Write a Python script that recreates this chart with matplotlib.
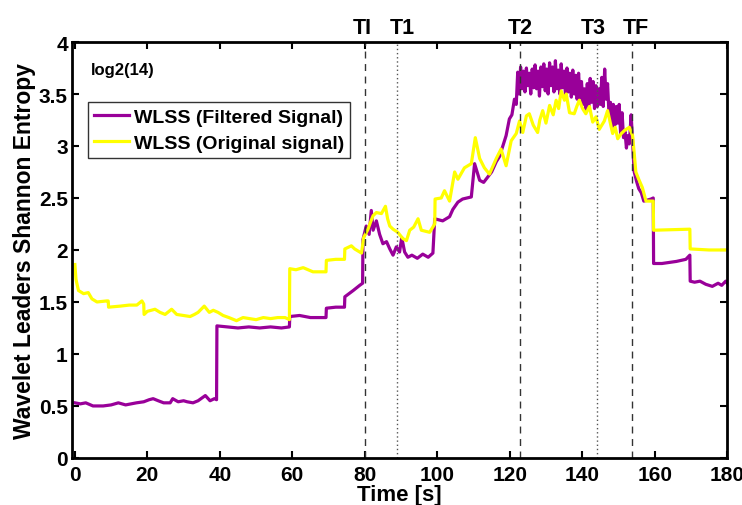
import matplotlib
matplotlib.use("Agg")
import matplotlib.pyplot as plt

plt.rcParams["font.family"] = ["Liberation Sans", "DejaVu Sans"]
plt.rcParams["font.weight"] = "bold"

# Filtered signal (purple)
filt_t = [0, 1.5, 3, 5, 7.8, 10, 12, 14, 17, 19, 20.5, 21.6, 23, 24.5, 26.3, 27, 28.5, 30, 31,
          32.6, 34, 36, 37.3, 38.5, 39.1, 39.2, 42, 45, 48, 51, 54, 57, 59.2, 59.3, 62, 65, 67,
          69.3, 69.4, 72, 74.4, 74.5, 76.8, 78.6, 79.4, 79.5, 80.4, 81.2, 81.8, 82.3, 83.2, 84.1,
          85, 86, 86.9, 87.8, 88.7, 89.6, 90.2, 91, 91.9, 93, 94.5, 96, 97.5, 98.8, 99.3, 101.5,
          103.4, 104.3, 105.7, 107, 109.4, 110.3, 111.7, 112.8, 113.9, 115, 116.3, 117.2, 118.1,
          119, 119.9, 120.6, 121.3, 121.8, 122.2, 122.6, 123.0, 123.4, 123.8, 124.2, 124.6, 125.0,
          125.4, 125.8, 126.2, 126.6, 127.0, 127.4, 127.8, 128.2, 128.6, 129.0, 129.4, 129.8,
          130.2, 130.6, 131.0, 131.4, 131.8, 132.2, 132.6, 133.0, 133.4, 133.8, 134.2, 134.6,
          135.0, 135.4, 135.8, 136.2, 136.6, 137.0, 137.4, 137.8, 138.2, 138.6, 139.0, 139.4,
          139.8, 140.2, 140.6, 141.0, 141.4, 141.8, 142.2, 142.6, 143.0, 143.4, 143.8, 144.2,
          144.6, 145.0, 145.4, 145.8, 146.2, 146.6, 147.0, 147.4, 147.8, 148.2, 148.6, 149.0,
          149.4, 149.8, 150.2, 150.6, 151.0, 151.4, 151.8, 152.2, 152.6, 153.0, 153.5, 153.9,
          154.3, 155.0, 155.6, 156.3, 157.0, 158.0, 159.0, 159.6, 159.7, 162, 164, 166, 168.6,
          169.7, 169.8, 171, 172.5, 174.1, 175.9, 177.5, 178.5, 179.6, 180]
filt_v = [0.53, 0.52, 0.53, 0.50, 0.50, 0.51, 0.53, 0.51, 0.53, 0.54, 0.56, 0.57, 0.55, 0.53,
          0.53, 0.57, 0.54, 0.55, 0.54, 0.53, 0.55, 0.60, 0.55, 0.57, 0.56, 1.27, 1.26, 1.25,
          1.26, 1.25, 1.26, 1.25, 1.26, 1.36, 1.37, 1.35, 1.35, 1.35, 1.44, 1.45, 1.45, 1.55,
          1.61, 1.66, 1.68, 2.10, 2.23, 2.15, 2.38, 2.19, 2.28, 2.15, 2.06, 2.08, 2.01, 1.95,
          2.03, 1.98, 2.12, 1.98, 1.93, 1.95, 1.92, 1.96, 1.93, 1.97, 2.30, 2.28, 2.32, 2.39,
          2.46, 2.49, 2.51, 2.83, 2.67, 2.65, 2.70, 2.75, 2.85, 2.90, 3.00, 3.10, 3.26, 3.30,
          3.45, 3.40, 3.71, 3.50, 3.76, 3.55, 3.72, 3.52, 3.75, 3.58, 3.70, 3.50, 3.74, 3.56,
          3.78, 3.55, 3.72, 3.48, 3.76, 3.57, 3.79, 3.53, 3.74, 3.50, 3.80, 3.58, 3.76, 3.52,
          3.82, 3.55, 3.73, 3.50, 3.79, 3.56, 3.72, 3.48, 3.75, 3.52, 3.70, 3.47, 3.73, 3.50,
          3.68, 3.45, 3.70, 3.46, 3.62, 3.40, 3.55, 3.35, 3.60, 3.38, 3.65, 3.42, 3.62, 3.36,
          3.58, 3.38, 3.55, 3.40, 3.66, 3.38, 3.74, 3.45, 3.60, 3.30, 3.42, 3.18, 3.40, 3.20,
          3.38, 3.22, 3.40, 3.12, 3.32, 3.08, 3.14, 2.98, 3.10, 3.02, 3.30, 3.05, 2.76, 2.66,
          2.59, 2.55, 2.47, 2.48, 2.49, 2.50, 1.87, 1.87, 1.88, 1.89, 1.91, 1.95, 1.70, 1.69,
          1.70, 1.67, 1.65, 1.68, 1.66, 1.70, 1.68]

# Original signal (yellow)
orig_t = [0, 0.3, 0.6, 1, 2.4, 3.7, 4.7, 6.1, 8.8, 9.2, 9.3, 12.5, 15, 17.1, 18.5, 19.0, 19.1,
          20, 22.1, 23.5, 24.9, 26.7, 28.1, 30, 31.8, 33, 34, 35.7, 37.1, 38.2, 39.5, 40.9, 42.5,
          44.6, 46.4, 48.3, 50, 52, 54, 56, 58, 59.2, 59.3, 61, 63, 65.7, 67.5, 69.3, 69.4, 72,
          74.4, 74.5, 76.3, 77.2, 79.1, 79.7, 80.9, 81.5, 82.3, 83.2, 84.6, 85.7, 86.3, 86.9,
          87.8, 89.1, 90.5, 91.5, 92.4, 93.5, 94.7, 95.6, 97.9, 99.3, 99.4, 101.1, 102.0, 103.4,
          104.8, 105.7, 107.5, 109.4, 110.5, 111.7, 113, 114.4, 116.3, 117.6, 119, 120.4, 121.8,
          122.7, 123.6, 124.6, 125.4, 126.5, 127.7, 128.3, 129.1, 130.0, 131, 132.0, 132.8,
          133.5, 134.2, 135.1, 135.6, 136.5, 137.8, 138.5, 139.2, 140.1, 141, 142.0, 142.9,
          143.8, 144.7, 145.4, 146.1, 147, 148.4, 149.1, 149.8, 150.8, 151.7, 153, 153.9, 154.3,
          154.8, 155.6, 156.6, 157.6, 159.6, 159.7, 169.7, 169.8, 175, 180]
orig_v = [1.86, 1.72, 1.67, 1.61, 1.58, 1.59, 1.53, 1.50, 1.51, 1.51, 1.45, 1.46, 1.47, 1.47,
          1.51, 1.48, 1.38, 1.41, 1.43, 1.40, 1.38, 1.43, 1.38, 1.37, 1.36, 1.38, 1.40, 1.46,
          1.40, 1.42, 1.40, 1.37, 1.35, 1.32, 1.35, 1.34, 1.33, 1.35, 1.34, 1.35, 1.35, 1.33,
          1.82, 1.81, 1.83, 1.79, 1.79, 1.79, 1.90, 1.91, 1.91, 2.01, 2.04, 2.01, 1.97, 2.12,
          2.20, 2.26, 2.33, 2.36, 2.35, 2.42, 2.30, 2.23, 2.20, 2.17, 2.11, 2.09, 2.19, 2.22,
          2.30, 2.19, 2.17, 2.25, 2.49, 2.50, 2.57, 2.47, 2.75, 2.68, 2.79, 2.83, 3.08, 2.88,
          2.79, 2.73, 2.88, 2.97, 2.81, 3.05, 3.12, 3.24, 3.13, 3.29, 3.31, 3.20, 3.13, 3.25,
          3.34, 3.22, 3.39, 3.30, 3.44, 3.36, 3.53, 3.44, 3.50, 3.32, 3.31, 3.38, 3.44, 3.36,
          3.31, 3.38, 3.23, 3.28, 3.16, 3.20, 3.24, 3.34, 3.12, 3.18, 3.07, 3.12, 3.15, 3.18,
          3.10, 2.95, 2.75, 2.68, 2.60, 2.47, 2.47, 2.19, 2.20, 2.01, 2.00, 2.00]

# event markers
ev_names = ["TI", "T1", "T2", "T3", "TF"]
ev_t = [80, 89, 122.7, 144, 153.7]
ev_style = ["--", ":", "--", ":", "--"]
ev_label_t = [79.4, 90.4, 122.9, 143.1, 154.9]

fig = plt.figure(figsize=(7.42, 5.06), dpi=100)
ax = fig.add_axes([0.097, 0.093, 0.883, 0.822])

ax.plot(filt_t, filt_v, color="#990099", lw=2.3, label="WLSS (Filtered Signal)")
ax.plot(orig_t, orig_v, color="#ffff00", lw=2.3, label="WLSS (Original signal)")

for t, ls, lt, name in zip(ev_t, ev_style, ev_label_t, ev_names):
    if ls == "--":
        ax.axvline(t, color="#333333", lw=1.0, ls=(0, (5, 4)))
    else:
        ax.axvline(t, color="#555555", lw=1.0, ls=(0, (1, 2)))
    ax.text(lt, 4.14, name, ha="center", va="center", fontsize=15.5, fontweight="bold")

ax.text(4.5, 3.74, "log2(14)", fontsize=12, fontweight="bold", va="center")

ax.set_xlim(-0.8, 180)
ax.set_ylim(0, 4)
ax.set_xticks(range(0, 181, 20))
ax.set_yticks([0, 0.5, 1, 1.5, 2, 2.5, 3, 3.5, 4])
ax.set_yticklabels(["0", "0.5", "1", "1.5", "2", "2.5", "3", "3.5", "4"])
ax.tick_params(direction="in", top=True, right=True, length=5, width=1.5,
               labelsize=15)
ax.tick_params(axis="x", pad=5)
ax.tick_params(axis="y", pad=3)
for s in ax.spines.values():
    s.set_linewidth(2)

ax.set_xlabel("Time [s]", fontsize=16, fontweight="bold", labelpad=0)
ax.set_ylabel("Wavelet Leaders Shannon Entropy", fontsize=16.5, fontweight="bold", labelpad=2)

leg = ax.legend(loc="upper left", bbox_to_anchor=(0.024, 0.855), fontsize=14,
                frameon=True, fancybox=False, edgecolor="black", borderpad=0.3,
                handlelength=1.8, handletextpad=0.3, labelspacing=0.45, borderaxespad=0)
leg.get_frame().set_linewidth(1.0)
for t in leg.get_texts():
    t.set_fontweight("bold")

fig.savefig("out.png", dpi=100)
